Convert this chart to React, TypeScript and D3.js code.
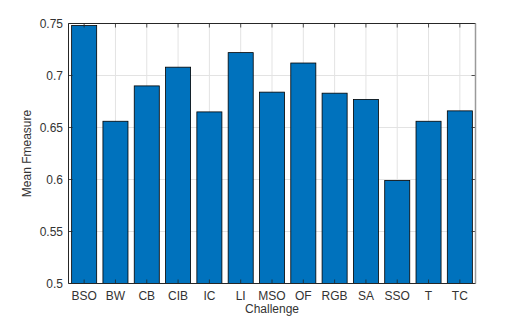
import React from "react";
import * as d3 from "d3";

const categories = ["BSO", "BW", "CB", "CIB", "IC", "LI", "MSO", "OF", "RGB", "SA", "SSO", "T", "TC"];
const values = [0.748, 0.656, 0.690, 0.708, 0.665, 0.722, 0.684, 0.712, 0.683, 0.677, 0.599, 0.656, 0.666];
const yTicks = [0.5, 0.55, 0.6, 0.65, 0.7, 0.75];
const yTickLabels = ["0.5", "0.55", "0.6", "0.65", "0.7", "0.75"];

const W = 526, H = 319;
const L = 68.5, R = 475.5, T = 23.5, B = 283.5;
const font = "'Liberation Sans', Arial, Helvetica, sans-serif";

export default function App() {
  const x = d3.scaleLinear().domain([0.5, categories.length + 0.5]).range([L, R]);
  const y = d3.scaleLinear().domain([0.5, 0.75]).range([B, T]);
  const bw = (x(1.4) - x(0.6));
  const tickLen = 4;
  return (
    <svg width={W} height={H} style={{ position: "absolute", left: 0, top: 0, background: "#fff" }}>
      {/* grid */}
      {yTicks.map((t, i) => (
        <line key={"gy" + i} x1={L} x2={R} y1={y(t)} y2={y(t)} stroke="#e3e3e3" strokeWidth={1} />
      ))}
      {categories.map((c, i) => (
        <line key={"gx" + i} x1={x(i + 1)} x2={x(i + 1)} y1={T} y2={B} stroke="#e3e3e3" strokeWidth={1} />
      ))}
      {/* bars */}
      {values.map((v, i) => (
        <rect key={"b" + i} x={x(i + 1) - bw / 2} y={y(v)} width={bw} height={y(0.5) - y(v)}
          fill="#0072BD" stroke="#000" strokeWidth={0.8} />
      ))}
      {/* ticks */}
      {categories.map((c, i) => (
        <g key={"tx" + i}>
          <line x1={x(i + 1)} x2={x(i + 1)} y1={B} y2={B - tickLen} stroke="#262626" strokeWidth={0.8} />
          <line x1={x(i + 1)} x2={x(i + 1)} y1={T} y2={T + tickLen} stroke="#262626" strokeWidth={0.8} />
          <text x={x(i + 1)} y={B + 16} textAnchor="middle" fontFamily={font} fontSize={12} fill="#333">{c}</text>
        </g>
      ))}
      {yTicks.map((t, i) => (
        <g key={"ty" + i}>
          <line x1={L} x2={L + tickLen} y1={y(t)} y2={y(t)} stroke="#262626" strokeWidth={0.8} />
          <line x1={R} x2={R - tickLen} y1={y(t)} y2={y(t)} stroke="#262626" strokeWidth={0.8} />
          <text x={L - 5.5} y={y(t) + 4.5} textAnchor="end" fontFamily={font} fontSize={12} fill="#333">{yTickLabels[i]}</text>
        </g>
      ))}
      {/* box */}
      <line x1={L} x2={R} y1={T} y2={T} stroke="#262626" strokeWidth={1} />
      <line x1={L} x2={R} y1={B} y2={B} stroke="#262626" strokeWidth={1} />
      <line x1={L} x2={L} y1={T} y2={B} stroke="#262626" strokeWidth={1} />
      <line x1={R} x2={R} y1={T} y2={B} stroke="#9a9a9a" strokeWidth={1.5} />
      {/* labels */}
      <text x={(L + R) / 2} y={313} textAnchor="middle" fontFamily={font} fontSize={12} fill="#333">Challenge</text>
      <text transform={`translate(30.5,${(T + B) / 2}) rotate(-90)`} textAnchor="middle" fontFamily={font} fontSize={12} fill="#333">Mean Fmeasure</text>
    </svg>
  );
}
